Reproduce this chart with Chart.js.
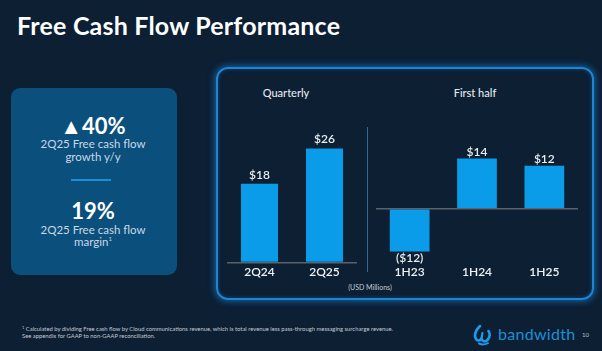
<!DOCTYPE html>
<html>
<head>
<meta charset="utf-8">
<script src="https://cdn.jsdelivr.net/npm/chart.js@4.4.1/dist/chart.umd.min.js"></script>
<style>
  html, body { margin:0; padding:0; }
  body { width:602px; height:351px; background:#0c1f33; position:relative; overflow:hidden; font-family:'Lato', 'Open Sans', sans-serif; }
  .abs { position:absolute; }
  #title { left:17px; top:9px; font-size:25px; font-weight:700; color:#ffffff; line-height:32px; white-space:nowrap; letter-spacing:0.2px; }
  #kpi { left:11px; top:88px; width:166px; height:187px; background:#0b4f7d; border-radius:9px; }
  .c { left:11px; width:164px; text-align:center; white-space:nowrap; }
  .big { font-size:22px; font-weight:700; color:#ffffff; line-height:24px; }
  .sub { font-size:11.5px; color:#c9d7e4; line-height:13px; }
  #sep { left:71px; top:179px; width:40px; height:2px; background:#1a8fd8; }
  #panel { left:216px; top:67px; width:374px; height:229px; border:2px solid #1b86d6; border-radius:12px; box-shadow:0 0 7px 1px rgba(30,140,230,0.65), inset 0 0 4px rgba(30,140,230,0.35); }
  .head { font-size:11px; color:#e4e9ee; line-height:14px; font-weight:500; white-space:nowrap; text-align:center; }
  #divider { left:367px; top:127px; width:1px; height:145px; background:#2c6a9c; }
  #usd { left:330px; width:80px; top:282px; font-size:7px; color:#c5ccd3; text-align:center; line-height:10px; }
  #foot { left:22px; top:325px; font-size:5.85px; color:#c5ccd3; line-height:7px; white-space:nowrap; }
  #logo { left:498px; top:324px; font-size:16px; color:#1d8fd9; line-height:20px; letter-spacing:0.3px; }
  #pg { left:582px; top:331px; font-size:6px; color:#b8c0c8; line-height:8px; }
</style>
</head>
<body>
<div id="title" class="abs">Free Cash Flow Performance</div>

<div id="kpi" class="abs"></div>
<div class="abs c big" style="top:114px;">▲40%</div>
<div class="abs c sub" style="top:137px;">2Q25 Free cash flow</div>
<div class="abs c sub" style="top:150px;">growth y/y</div>
<div id="sep" class="abs"></div>
<div class="abs c big" style="top:199px;">19%</div>
<div class="abs c sub" style="top:223px;">2Q25 Free cash flow</div>
<div class="abs c sub" style="top:235px;">margin<sup style="font-size:6px;vertical-align:5px;line-height:0">1</sup></div>

<div id="panel" class="abs"></div>
<div class="abs head" style="left:246px;width:80px;top:86px;">Quarterly</div>
<div class="abs head" style="left:435px;width:80px;top:86px;">First half</div>
<div id="divider" class="abs"></div>

<div class="abs" style="left:227px;top:110px;width:130px;height:172px;"><canvas id="q" width="130" height="172"></canvas></div>
<div class="abs" style="left:376px;top:110px;width:202px;height:172px;"><canvas id="h" width="202" height="172"></canvas></div>

<div id="usd" class="abs">(USD Millions)</div>

<div id="foot" class="abs"><sup style="font-size:4px;vertical-align:2px;line-height:0">1</sup> Calculated by dividing Free cash flow by Cloud communications revenue, which is total revenue less pass-through messaging surcharge revenue.<br>See appendix for GAAP to non-GAAP reconciliation.</div>

<svg class="abs" style="left:473px;top:325px;" width="19" height="21" viewBox="0 0 19 21">
  <path d="M7 1 C3 5 1 9 2.5 13 C3.5 16 6.5 16.5 8.5 13.5 C9 16.5 12 17.5 14.5 15 C17.5 12 17 8 15.5 6" fill="none" stroke="#1d9be6" stroke-width="2.6" stroke-linecap="round"/>
  <path d="M8.5 13.5 C9 11 9 9.5 9.5 8" fill="none" stroke="#1d9be6" stroke-width="2.2" stroke-linecap="round"/>
  <path d="M6 18.5 C9 20 13 19.5 15 18" fill="none" stroke="#1d9be6" stroke-width="2" stroke-linecap="round"/>
</svg>
<div id="logo" class="abs">bandwidth</div>
<div id="pg" class="abs">10</div>

<script>
// ---- data ----
const quarterCategories = ['2Q24', '2Q25'];
const quarterValues = [18, 26];
const halfCategories = ['1H23', '1H24', '1H25'];
const halfValues = [-12, 14, 12];

const BAR = '#0a9be9';
const fmt = v => v < 0 ? '($' + Math.abs(v) + ')' : '$' + v;

const valueLabels = {
  id: 'valueLabels',
  afterDatasetsDraw(chart, args, opts) {
    const ctx = chart.ctx;
    const meta = chart.getDatasetMeta(0);
    const data = chart.data.datasets[0].data;
    ctx.save();
    ctx.font = '600 12px Lato, "Open Sans", sans-serif';
    ctx.fillStyle = '#e8edf2';
    ctx.textAlign = 'center';
    ctx.textBaseline = 'middle';
    meta.data.forEach((bar, i) => {
      const v = data[i];
      const y = v >= 0 ? bar.y - opts.offset : bar.y + opts.offset;
      ctx.fillText(fmt(v), bar.x, y);
    });
    ctx.restore();
  }
};

function makeChart(id, labels, values, min, max, offset) {
  return new Chart(document.getElementById(id), {
    type: 'bar',
    data: { labels: labels, datasets: [{ data: values, backgroundColor: BAR, borderWidth: 0,
      categoryPercentage: 1.0, barPercentage: id === 'q' ? 0.57 : 0.59 }] },
    options: {
      responsive: false,
      animation: false,
      devicePixelRatio: 1,
      layout: { padding: 0 },
      plugins: { legend: { display: false }, tooltip: { enabled: false }, valueLabels: { offset: offset } },
      scales: {
        x: {
          grid: { display: false, drawTicks: false },
          border: { display: false },
          ticks: { color: '#eef2f6', padding: 2.5, font: { family: 'Lato, "Open Sans", sans-serif', size: 12, weight: '600' } }
        },
        y: {
          min: min, max: max,
          afterBuildTicks: s => { s.ticks = [{ value: 0 }]; },
          ticks: { display: false },
          border: { display: false },
          grid: { drawTicks: false, lineWidth: 1.5, color: c => (c.tick && c.tick.value === 0) ? '#58636e' : 'rgba(0,0,0,0)' }
        }
      }
    },
    plugins: [valueLabels]
  });
}

makeChart('q', quarterCategories, quarterValues, 0, 34.8, 9);
makeChart('h', halfCategories, halfValues, -15.1, 27.6, 6.5);
</script>
</body>
</html>
